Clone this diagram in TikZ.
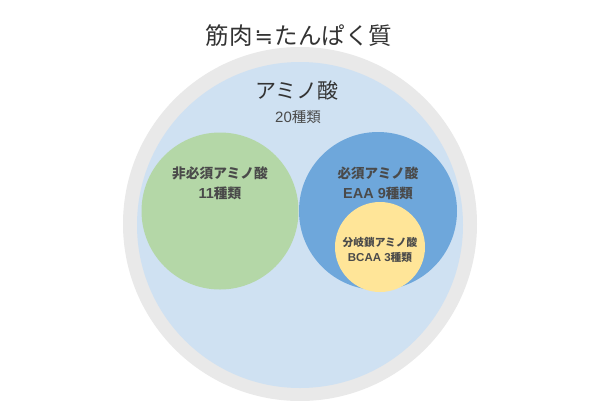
\documentclass[tikz,border=0pt]{standalone}
\usepackage{fontspec}
\setmainfont{Noto Sans CJK JP}
\newfontfamily\jp{Noto Sans CJK JP}
\newfontfamily\symf{DejaVu Sans}
\newfontfamily\latn{Liberation Sans}
\definecolor{ringgray}{HTML}{E9E9E9}
\definecolor{paleblue}{HTML}{CFE1F2}
\definecolor{softgreen}{HTML}{B4D7A7}
\definecolor{midblue}{HTML}{6EA7DB}
\definecolor{paleyellow}{HTML}{FFE598}
\definecolor{txtgray}{HTML}{4A4A4A}
\begin{document}
\begin{tikzpicture}[x=1pt,y=-1pt,
  lbl/.style={text=txtgray, font=\jp, inner sep=0pt, align=center},
  blbl/.style={text=txtgray, font=\jp\bfseries, inner sep=0pt, align=center}]
\useasboundingbox (0,0) rectangle (600,400);
\fill[white] (0,0) rectangle (600,400);
\fill[ringgray] (300,224) circle (177);
\fill[paleblue] (300,225) circle (163);
\fill[softgreen] (220,211) circle (78.5);
\fill[midblue] (378,211) circle (79);
\fill[paleyellow] (380,247) circle (45);
\node[lbl, text=black!80, font=\jp\fontsize{23.5}{26}\selectfont] (title) at (299,36) {筋肉\kern2pt{\symf\fontsize{22}{26}\selectfont ≒}\kern2pt たんぱく質};
\node[lbl, text=black!80, font=\jp\fontsize{21}{24}\selectfont] (amino) at (297,90) {アミノ酸};
\node[lbl, font=\jp\fontsize{14.5}{16}\selectfont] (amino2) at (298,117) {{\latn\fontsize{15}{16}\selectfont 20}種類};
\node[blbl, font=\jp\bfseries\fontsize{13.7}{20}\selectfont] (non) at (220,183) {非必須アミノ酸\\{\latn\bfseries\fontsize{14.5}{20}\selectfont 11}種類};
\node[blbl, font=\jp\bfseries\fontsize{13.5}{20}\selectfont] (eaa) at (378,183) {必須アミノ酸\\{\latn\bfseries\fontsize{14.5}{20}\selectfont EAA 9}種類};
\node[blbl, font=\jp\bfseries\fontsize{10.7}{15}\selectfont] (bcaa) at (380,250) {分岐鎖アミノ酸\\{\latn\bfseries\fontsize{11.5}{15}\selectfont BCAA 3}種類};
\end{tikzpicture}
\end{document}
